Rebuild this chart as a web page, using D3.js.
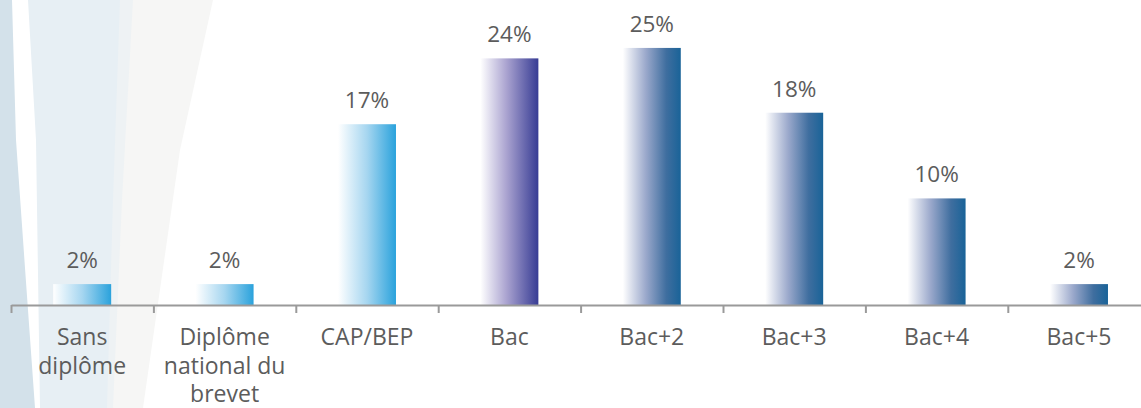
<!DOCTYPE html>
<html>
<head>
<meta charset="utf-8">
<script src="https://cdn.jsdelivr.net/npm/d3@7"></script>
<style>
  html, body { margin: 0; padding: 0; background: #fff; }
  svg { display: block; }
  .lbl { font-family: "Open Sans", sans-serif; font-weight: 400; fill: #5c5c5c; }
</style>
</head>
<body>
<div id="chart"></div>
<script>
// data
const categories = ['Sans diplôme', 'Diplôme national du brevet', 'CAP/BEP', 'Bac', 'Bac+2', 'Bac+3', 'Bac+4', 'Bac+5'];
const shares = [2.0, 2.0, 17.3, 23.6, 24.6, 18.4, 10.2, 2.0];

const w = 1141;
const h = 408;
const axisY = 305;

const svg = d3.select('#chart')
    .append('svg')
    .attr('width', w)
    .attr('height', h);

// decorative background strips on the left
const shapes = [
    { fill: '#f6f6f5', pts: [[100, 0], [213, 0], [180, 150], [143, 408], [90, 408]] },
    { fill: '#eef2f4', pts: [[110, 0], [133, 0], [122, 200], [113, 408], [100, 408]] },
    { fill: '#e7eff4', pts: [[28, 0], [120, 0], [113, 200], [107, 408], [40, 408], [36, 140]] },
    { fill: '#d3e1ea', pts: [[0, 0], [12, 0], [16, 140], [25, 268], [35, 408], [0, 408]] }
];
shapes.forEach(s => {
    svg.append('path')
        .attr('d', d3.line()(s.pts) + 'Z')
        .attr('fill', s.fill);
});

// gradients (white at left -> colour at right)
const defs = svg.append('defs');
const grads = {
    'g-sky': [['0%', '#ffffff'], ['50%', '#a6d6f0'], ['100%', '#2aa2dc']],
    'g-indigo': [['0%', '#ffffff'], ['45%', '#aaa3d0'], ['100%', '#373c94']],
    'g-navy': [['0%', '#ffffff'], ['40%', '#9aa8cb'], ['75%', '#3f6e9f'], ['100%', '#196398']]
};
Object.keys(grads).forEach(id => {
    const g = defs.append('linearGradient')
        .attr('id', id)
        .attr('x1', '0%').attr('x2', '100%')
        .attr('y1', '0%').attr('y2', '0%');
    grads[id].forEach(st => g.append('stop').attr('offset', st[0]).attr('stop-color', st[1]));
});
const gradFor = i => i < 3 ? 'g-sky' : (i === 3 ? 'g-indigo' : 'g-navy');

const x = d3.scaleBand()
    .domain(categories)
    .range([11, 11 + 8 * 142.4])
    .paddingInner(0.593)
    .paddingOuter(0.2965);

const y = d3.scaleLinear()
    .domain([0, 25])
    .range([axisY, axisY - 261.25]);

// bars
svg.selectAll('rect.bar')
    .data(shares)
    .enter()
    .append('rect')
    .attr('class', 'bar')
    .attr('x', (d, i) => x(categories[i]))
    .attr('y', d => y(d))
    .attr('width', x.bandwidth())
    .attr('height', d => y(0) - y(d))
    .attr('fill', (d, i) => 'url(#' + gradFor(i) + ')');

// value labels
svg.selectAll('text.val')
    .data(shares)
    .enter()
    .append('text')
    .attr('class', 'lbl val')
    .attr('x', (d, i) => x(categories[i]) + x.bandwidth() / 2)
    .attr('y', d => y(d) - 16)
    .attr('text-anchor', 'middle')
    .style('font-size', '22.5px')
    .text(d => d3.format('.0f')(d) + '%');

// axis with ticks on band boundaries
const edges = d3.scaleLinear().domain([0, categories.length]).range(x.range());
const axis = svg.append('g')
    .attr('transform', 'translate(0,' + axisY + ')')
    .call(d3.axisBottom(edges)
        .tickValues(d3.range(0, categories.length + 1))
        .tickSize(8)
        .tickSizeOuter(0)
        .tickFormat(''));
axis.select('.domain').attr('stroke', '#9a9a9a').attr('stroke-width', 2);
axis.selectAll('.tick line').attr('stroke', '#9a9a9a').attr('stroke-width', 2);

// category labels, wrapped
const cat = svg.selectAll('text.cat')
    .data(categories)
    .enter()
    .append('text')
    .attr('class', 'lbl cat')
    .attr('text-anchor', 'middle')
    .style('font-size', '23px')
    .attr('x', d => x(d) + x.bandwidth() / 2)
    .attr('y', axisY + 40);

cat.each(function (d) {
    const t = d3.select(this);
    const cx = +t.attr('x');
    const words = d.split(' ');
    let line = [];
    let ts = t.append('tspan').attr('x', cx).attr('dy', 0);
    words.forEach(word => {
        line.push(word);
        ts.text(line.join(' '));
        if (ts.node().getComputedTextLength() > 132 && line.length > 1) {
            line.pop();
            ts.text(line.join(' '));
            line = [word];
            ts = t.append('tspan').attr('x', cx).attr('dy', 28.5).text(word);
        }
    });
});
</script>
</body>
</html>
